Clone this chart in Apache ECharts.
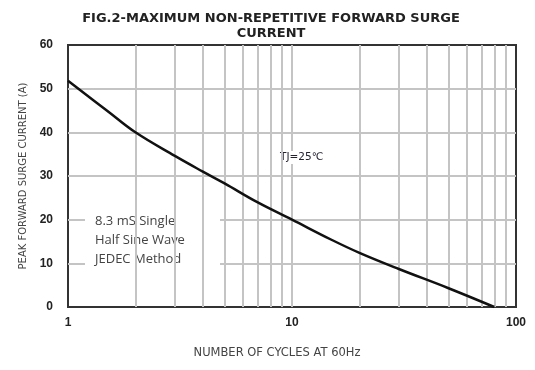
<!DOCTYPE html>
<html>
<head>
<meta charset="utf-8">
<script src="https://cdn.jsdelivr.net/npm/echarts@6/dist/echarts.min.js"></script>
<style>
  html, body { margin: 0; padding: 0; background: #fff; }
  #chart { width: 535px; height: 370px; }
</style>
</head>
<body>
<div id="chart"></div>
<script>
// cycles (log x) and peak surge current (A)
var cycles = [1, 1.5, 2, 3, 4, 5, 7, 10, 15, 20, 30, 50, 80];
var current = [51.8, 44.9, 40, 34.6, 31, 28.3, 24, 20, 15.4, 12.4, 8.7, 4.3, 0];
// minor vertical grid positions
var minorGrid = [2, 3, 4, 5, 6, 7, 8, 9, 20, 30, 40, 50, 60, 70, 80, 90];
var noteLines = ['8.3 mS Single', 'Half Sine Wave', 'JEDEC Method'];

var chart = echarts.init(document.getElementById('chart'));

var curveData = [];
for (var i = 0; i < cycles.length; i++) {
    curveData.push([cycles[i], current[i]]);
}

var gridColor = '#c4c4c4';

var option = {
    animation: false,
    backgroundColor: '#fff',
    title: {
        text: 'FIG.2-MAXIMUM NON-REPETITIVE FORWARD SURGE\nCURRENT',
        left: 266,
        textAlign: 'center',
        top: 6,
        textStyle: {
            fontFamily: 'DejaVu Sans',
            fontSize: 13,
            fontWeight: 'bold',
            color: '#222',
            lineHeight: 15
        }
    },
    grid: {
        left: 68,
        right: 19,
        top: 45,
        bottom: 63,
        show: true,
        borderColor: '#333',
        borderWidth: 2
    },
    xAxis: {
        type: 'log',
        logBase: 10,
        min: 1,
        max: 100,
        name: 'NUMBER OF CYCLES AT 60Hz',
        nameLocation: 'middle',
        nameGap: 40,
        nameTextStyle: { fontFamily: 'DejaVu Sans', fontSize: 11.5, color: '#444', padding: [0, 30, 0, 0] },
        axisLine: { show: false },
        axisTick: { show: false },
        axisLabel: { fontFamily: 'Liberation Sans', fontSize: 12, fontWeight: 'bold', color: '#222', margin: 10 },
        splitLine: { show: true, showMinLine: false, showMaxLine: false, lineStyle: { color: gridColor, width: 2 } }
    },
    yAxis: {
        type: 'value',
        min: 0,
        max: 60,
        interval: 10,
        name: 'PEAK FORWARD SURGE CURRENT (A)',
        nameLocation: 'middle',
        nameGap: 40,
        nameTextStyle: { fontFamily: 'DejaVu Sans', fontSize: 10, color: '#444' },
        axisLine: { show: false },
        axisTick: { show: false },
        axisLabel: { fontFamily: 'Liberation Sans', fontSize: 12, fontWeight: 'bold', color: '#222', margin: 15 },
        splitLine: { show: true, showMinLine: false, showMaxLine: false, lineStyle: { color: gridColor, width: 2 } }
    },
    graphic: [
        {
            type: 'rect',
            z: 3,
            shape: { x: 85, y: 203, width: 135, height: 74 },
            style: { fill: '#fff' }
        },
        {
            type: 'text',
            z: 4,
            left: 95,
            top: 212,
            style: {
                text: noteLines.join('\n'),
                fontFamily: 'Open Sans',
                fontSize: 13,
                lineHeight: 19,
                fill: '#444'
            }
        },
        {
            type: 'text',
            z: 4,
            left: 279,
            top: 151,
            style: {
                text: 'TJ=25℃',
                fontFamily: 'DejaVu Sans',
                fontSize: 10.5,
                fill: '#223',
                backgroundColor: '#fff',
                padding: [1, 1]
            }
        }
    ],
    series: [
        {
            name: 'grid',
            type: 'line',
            z: 1,
            data: [],
            silent: true,
            markLine: {
                silent: true,
                symbol: 'none',
                label: { show: false },
                lineStyle: { color: gridColor, width: 2, type: 'solid' },
                data: minorGrid.map(function (v) { return { xAxis: v }; })
            }
        },
        {
            name: 'IFSM',
            type: 'line',
            z: 10,
            data: curveData,
            smooth: 0.4,
            symbol: 'none',
            lineStyle: { color: '#111', width: 2.5 }
        }
    ]
};

chart.setOption(option);
</script>
</body>
</html>
